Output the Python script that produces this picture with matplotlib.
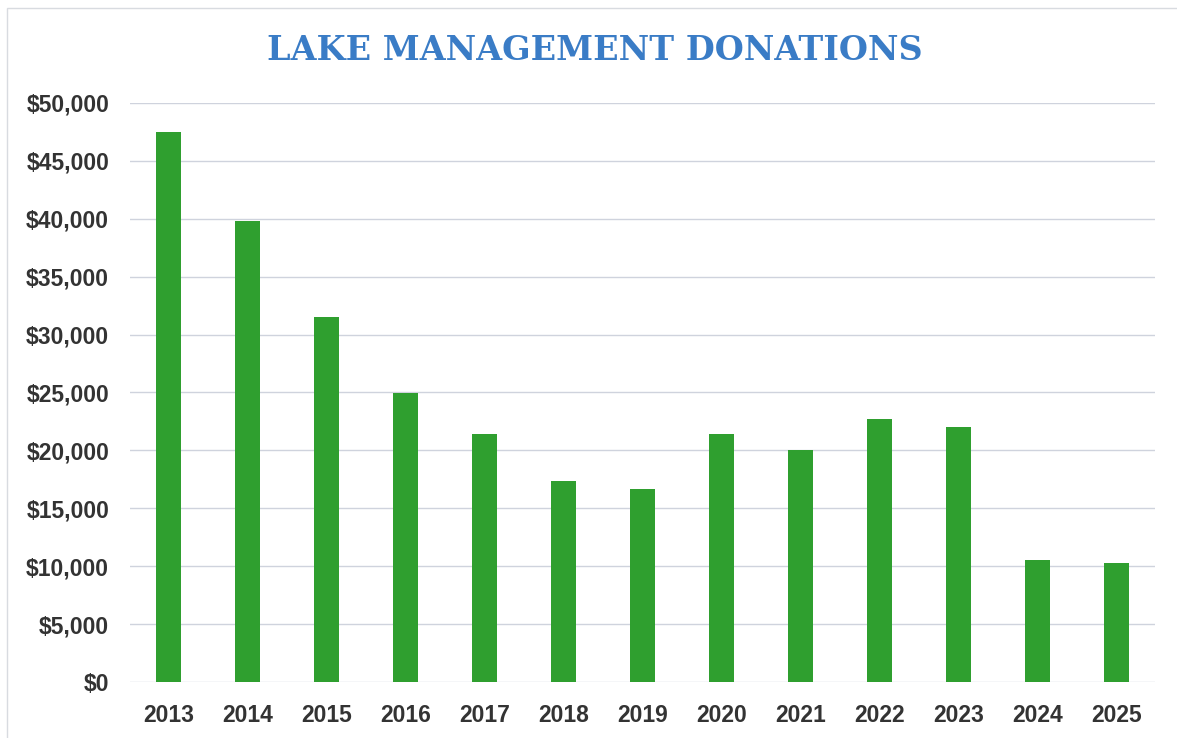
import matplotlib
matplotlib.use("Agg")
import matplotlib.pyplot as plt
from matplotlib.ticker import FuncFormatter, MultipleLocator
from matplotlib.patches import Rectangle

years = ["2013", "2014", "2015", "2016", "2017", "2018", "2019",
         "2020", "2021", "2022", "2023", "2024", "2025"]
donations = [47500, 39800, 31500, 24950, 21400, 17400, 16700,
             21400, 20000, 22700, 22000, 10500, 10250]
title = "LAKE MANAGEMENT DONATIONS"

W, H = 1177, 738
fig = plt.figure(figsize=(W / 100, H / 100), dpi=100)
fig.patch.set_facecolor("white")

ax = fig.add_axes([130 / W, 1 - 682 / H, (1155 - 130) / W, (682 - 103) / H])
x = range(len(years))
ax.bar(x, donations, width=0.31, color="#2f9f2f", zorder=3)

ax.set_xlim(-0.49, len(years) - 0.51)
ax.set_ylim(0, 50000)
ax.yaxis.set_major_locator(MultipleLocator(5000))
ax.yaxis.set_major_formatter(FuncFormatter(lambda v, p: f"${v:,.0f}"))
ax.set_xticks(list(x))
ax.set_xticklabels(years)

ax.grid(axis="y", color="#cfd3dd", linewidth=1.0, zorder=0)
for s in ax.spines.values():
    s.set_visible(False)
ax.tick_params(axis="both", length=0)
ax.tick_params(axis="y", pad=15)
ax.tick_params(axis="x", pad=16)
for lbl in ax.get_xticklabels() + ax.get_yticklabels():
    lbl.set_fontfamily("Liberation Sans")
    lbl.set_fontweight("bold")
    lbl.set_fontsize(16.5)
    lbl.set_color("#333333")

fig.text(595 / W, 1 - 51 / H, title, ha="center", va="center",
         fontfamily="DejaVu Serif", fontweight="bold", fontsize=24,
         color="#3a7cc6")

# faint scan border
fig.add_artist(Rectangle((7 / W, -0.1), 1.2, 1.1 - 8 / H, transform=fig.transFigure,
                         fill=False, edgecolor="#d8dbe0", linewidth=1.0))

fig.savefig("out.png", dpi=100, facecolor="white")
